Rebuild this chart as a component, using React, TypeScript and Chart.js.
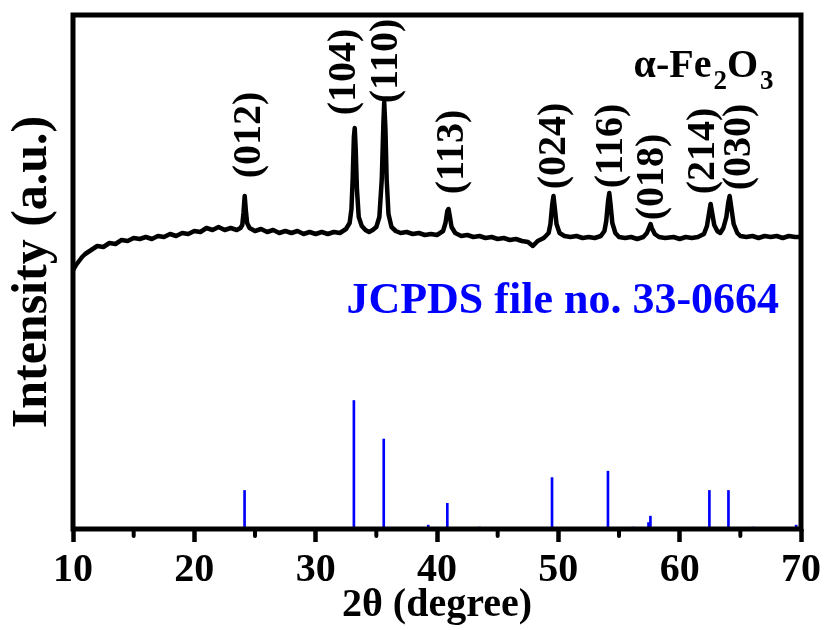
import { useEffect, useRef } from 'react';
import { Chart, registerables } from 'chart.js';

Chart.register(...registerables);

// Measured XRD pattern (2θ in degrees, intensity in a.u.)
const twoTheta = [
  10.0, 10.25, 10.5, 10.75, 11.0, 11.5, 12.0, 12.5, 13.0, 13.5, 14.0, 14.5, 15.0, 15.5, 16.0, 16.5,
  17.0, 17.5, 18.0, 18.5, 19.0, 19.5, 20.0, 20.5, 21.0, 21.5, 22.0, 22.5, 23.0, 23.5, 23.8,
  23.95, 24.05, 24.15, 24.25, 24.35, 24.55, 25.0, 25.5, 26.0, 26.5, 27.0, 27.5, 28.0, 28.5, 29.0,
  29.5, 30.0, 30.5, 31.0, 31.5, 32.0, 32.5, 32.8, 32.95, 33.05, 33.15, 33.22, 33.3, 33.4, 33.55,
  33.8, 34.1, 34.4, 34.7, 35.0, 35.25, 35.45, 35.58, 35.65, 35.75, 35.85, 36.0, 36.25, 36.6, 37.0,
  37.5, 38.0, 38.5, 39.0, 39.5, 40.0, 40.5, 40.7, 40.85, 40.95, 41.05, 41.2, 41.5, 42.0, 42.5,
  43.0, 43.5, 44.0, 44.5, 45.0, 45.5, 46.0, 46.5, 47.0, 47.5, 47.9, 48.3, 48.8, 49.2, 49.35,
  49.5, 49.6, 49.7, 49.85, 50.1, 50.5, 51.0, 51.5, 52.0, 52.5, 53.0, 53.5, 53.8, 53.95, 54.1,
  54.2, 54.3, 54.45, 54.7, 55.0, 55.5, 56.0, 56.5, 57.0, 57.3, 57.5, 57.6, 57.7, 57.95, 58.3,
  58.8, 59.5, 60.0, 60.5, 61.0, 61.5, 62.0, 62.25, 62.45, 62.55, 62.65, 62.85, 63.1, 63.35, 63.6,
  63.85, 64.0, 64.12, 64.25, 64.45, 64.75, 65.0, 65.5, 66.0, 66.5, 67.0, 67.5, 68.0, 68.5, 69.0,
  69.5, 70.0,
];
const intensity = [
  259, 264, 268, 272, 275, 279, 283, 282, 286, 285, 289, 288, 291, 290, 292, 290,
  293, 292, 295, 293, 296, 295, 298, 297, 301, 299, 302, 299, 301, 299, 301,
  304, 316, 333, 318, 306, 301, 298, 300, 297, 299, 296, 298, 296, 298, 295,
  297, 295, 297, 295, 297, 296, 300, 306, 320, 350, 392, 401, 380, 340, 312,
  303, 299, 297, 299, 302, 312, 350, 405, 427, 400, 350, 315, 302, 298, 296,
  297, 295, 296, 294, 295, 294, 298, 306, 318, 320, 313, 302, 296, 293, 294,
  292, 293, 291, 292, 290, 291, 289, 290, 288, 287, 283, 288, 291, 296, 305,
  325, 333, 322, 305, 296, 293, 292, 293, 291, 292, 291, 293, 298, 308, 328,
  336, 325, 306, 296, 292, 291, 292, 290, 292, 296, 302, 305, 301, 295, 292,
  291, 292, 290, 292, 291, 292, 295, 303, 318, 325, 318, 304, 298, 296, 301,
  312, 326, 333, 322, 305, 296, 293, 292, 293, 291, 293, 292, 293, 291, 293,
  292, 292,
];

// JCPDS 33-0664 reference lines (2θ, relative intensity %)
const refTwoTheta = [24.14, 33.15, 35.61, 39.28, 40.85, 43.52, 49.48, 54.09, 56.15, 57.43, 57.59, 62.45, 64.02, 66.03, 69.6];
const refIntensity = [30, 100, 70, 3, 20, 1.5, 40, 45, 1.5, 5, 10, 30, 30, 1.5, 3];

// Axis ticks
const xMin = 10;
const xMax = 70;
const xMajorStep = 10;
const xMinorTicks = [15, 25, 35, 45, 55, 65];

// Peak (hkl) labels
const peakLabels = ['(012)', '(104)', '(110)', '(113)', '(024)', '(116)', '(018)', '(214)', '(030)'];
const peakLabelAt: [number, number][] = [
  [24.59, 394], [32.42, 457], [35.88, 468], [41.32, 377], [49.73, 383],
  [54.42, 383], [57.8, 352], [62.0, 378], [64.97, 382],
];

const SERIF = '"Liberation Serif", "Times New Roman", serif';

const decorPlugin = {
  id: 'decor',
  afterDraw(chart: any) {
    const { ctx, chartArea: a, scales } = chart;
    const x = scales.x;
    const y = scales.y;
    ctx.save();

    // minor ticks
    ctx.strokeStyle = '#000';
    ctx.lineWidth = 4;
    ctx.lineCap = 'round';
    xMinorTicks.forEach((v) => {
      const px = x.getPixelForValue(v);
      ctx.beginPath();
      ctx.moveTo(px, a.bottom);
      ctx.lineTo(px, a.bottom + 7);
      ctx.stroke();
    });

    // frame
    ctx.lineCap = 'butt';
    ctx.lineJoin = 'miter';
    ctx.lineWidth = 5;
    ctx.strokeRect(a.left, a.top, a.right - a.left, a.bottom - a.top);

    // peak labels (rotated)
    ctx.fillStyle = '#000';
    ctx.font = `bold 40px ${SERIF}`;
    ctx.textAlign = 'center';
    ctx.textBaseline = 'middle';
    peakLabels.forEach((t, i) => {
      const px = x.getPixelForValue(peakLabelAt[i][0]);
      const py = y.getPixelForValue(peakLabelAt[i][1]);
      ctx.save();
      ctx.translate(px, py);
      ctx.rotate(-Math.PI / 2);
      ctx.fillText(t, 0, 0);
      ctx.restore();
    });

    // formula α-Fe2O3
    ctx.textAlign = 'left';
    ctx.textBaseline = 'alphabetic';
    let fx = x.getPixelForValue(56.2);
    const fy = y.getPixelForValue(452);
    const big = `bold 40px ${SERIF}`;
    const small = `bold 27px ${SERIF}`;
    const parts: [string, boolean][] = [['α-Fe', false], ['2', true], ['O', false], ['3', true]];
    parts.forEach(([t, sub]) => {
      ctx.font = sub ? small : big;
      ctx.fillText(t, fx, sub ? fy + 12 : fy);
      fx += ctx.measureText(t).width + (sub ? 0 : 2);
    });

    // JCPDS text
    ctx.fillStyle = '#0000ff';
    ctx.font = `bold 44px ${SERIF}`;
    ctx.textAlign = 'right';
    ctx.fillText('JCPDS file no. 33-0664', x.getPixelForValue(68.19), y.getPixelForValue(216));

    ctx.restore();
  },
};

export default function App() {
  const ref = useRef<HTMLCanvasElement | null>(null);

  useEffect(() => {
    if (!ref.current) return;
    const chart = new Chart(ref.current, {
      type: 'line',
      data: {
        datasets: [
          {
            type: 'line',
            label: 'XRD',
            data: twoTheta.map((t, i) => ({ x: t, y: intensity[i] })),
            borderColor: '#000',
            borderWidth: 4.5,
            pointRadius: 0,
            tension: 0,
            borderJoinStyle: 'round',
            yAxisID: 'y',
          },
          {
            type: 'bar',
            label: 'JCPDS 33-0664',
            data: refTwoTheta.map((t, i) => ({ x: t, y: refIntensity[i] })),
            backgroundColor: '#0000ff',
            borderWidth: 0,
            barThickness: 2,
            yAxisID: 'yRef',
          } as any,
        ],
      },
      options: {
        animation: false,
        responsive: false,
        layout: { padding: { top: 15, right: 25, left: 0, bottom: 0 } },
        plugins: { legend: { display: false }, tooltip: { enabled: false } },
        scales: {
          x: {
            type: 'linear',
            min: xMin,
            max: xMax,
            offset: false,
            ticks: {
              stepSize: xMajorStep,
              color: '#000',
              padding: 5,
              font: { family: SERIF, size: 40, weight: 'bold' },
              maxRotation: 0,
              autoSkip: false,
            },
            grid: {
              display: true,
              drawOnChartArea: false,
              drawTicks: true,
              tickLength: 13,
              tickWidth: 4.5,
              tickColor: '#000',
              offset: false,
            },
            border: { display: false },
            title: {
              display: true,
              text: '2θ (degree)',
              color: '#000',
              font: { family: SERIF, size: 40, weight: 'bold' },
              padding: { top: 0, bottom: 0 },
            },
            afterFit: (s: any) => { s.height = 101; },
          },
          y: {
            type: 'linear',
            position: 'left',
            min: 0,
            max: 514,
            ticks: { display: false },
            grid: { display: false },
            border: { display: false },
            title: {
              display: true,
              text: 'Intensity (a.u.)',
              color: '#000',
              font: { family: SERIF, size: 50, weight: 'bold' },
              padding: { top: 3, bottom: 0 },
            },
            afterFit: (s: any) => { s.width = 73; },
          },
          yRef: {
            type: 'linear',
            display: false,
            min: 0,
            max: 400,
          },
        },
      } as any,
      plugins: [decorPlugin],
    });
    return () => chart.destroy();
  }, []);

  return (
    <div style={{ position: 'fixed', left: 0, top: 0, width: 826, height: 630, background: '#fff' }}>
      <canvas ref={ref} width={826} height={630} style={{ width: 826, height: 630 }} />
    </div>
  );
}
